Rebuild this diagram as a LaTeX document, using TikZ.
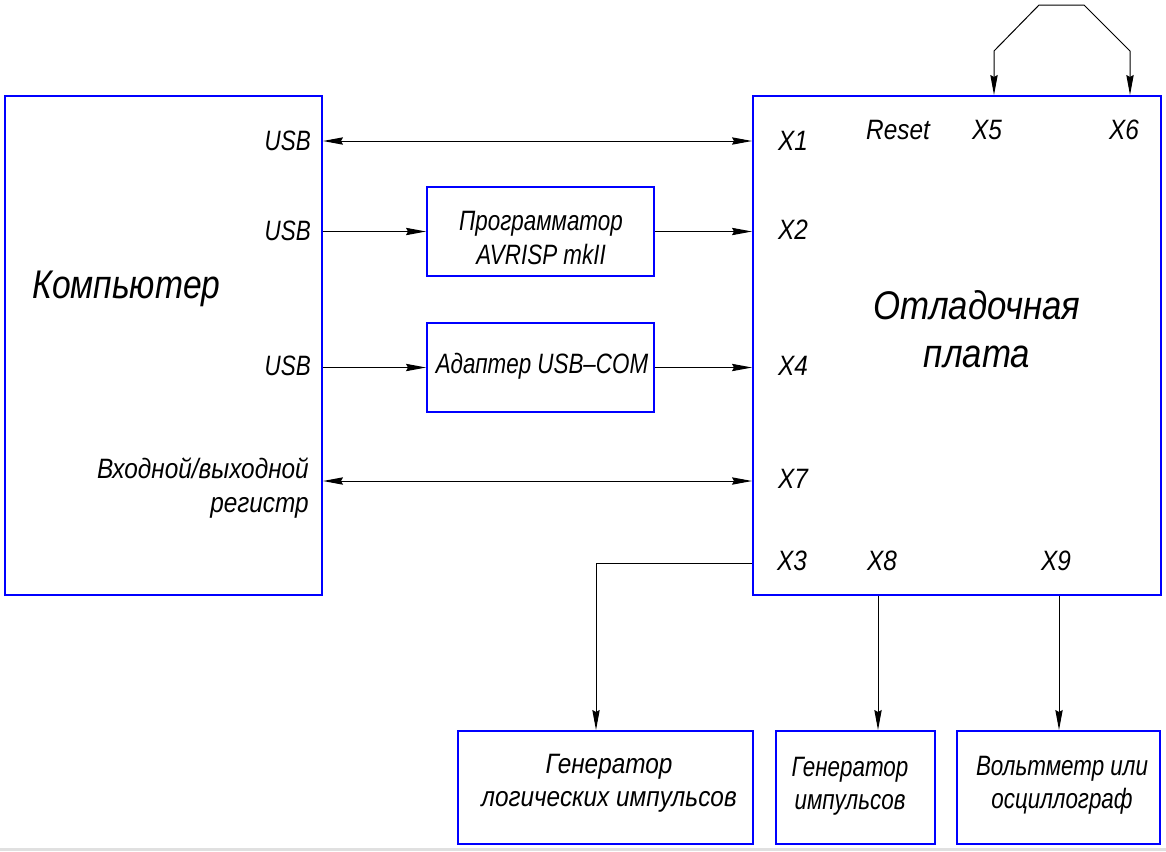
\documentclass[tikz,border=0pt]{standalone}
\usepackage{fontspec}
\setmainfont{Liberation Sans}[FakeStretch=0.87]
\newfontfamily\narrowfam{Liberation Sans}[FakeStretch=0.8]
\newfontfamily\compfam{Liberation Sans}[FakeStretch=0.84]
\usetikzlibrary{arrows.meta,fit}
\begin{document}
\begin{tikzpicture}[x=0.75pt,y=-0.75pt,
  blk/.style={draw={rgb,255:red,0;green,0;blue,255}, line width=1.5pt, inner sep=0pt},
  lbl/.style={font=\fontsize{21}{25}\selectfont\itshape, inner sep=0pt},
  nlbl/.style={font=\narrowfam\fontsize{21}{25}\selectfont\itshape, inner sep=0pt},
  big/.style={font=\fontsize{30}{34}\selectfont\itshape, inner sep=0pt},
  conn/.style={line width=0.75pt, black},
  arrowend/.style={-{Stealth[length=15pt,width=5.5pt,inset=1.5pt]}},
  arrowboth/.style={{Stealth[length=15pt,width=5.5pt,inset=1.5pt]}-{Stealth[length=15pt,width=5.5pt,inset=1.5pt]}}
]
\useasboundingbox (0,0) rectangle (1166,851);
\fill[black!12] (0,848) rectangle (1166,851);

% boxes
\node[blk, fit={(5,96) (322,595)}] (comp) {};
\node[blk, fit={(753,96) (1161,595)}] (board) {};
\node[blk, fit={(427,187) (654,276)}] (prog) {};
\node[blk, fit={(427,323) (654,412)}] (adap) {};
\node[blk, fit={(458,731) (753,844)}] (genlog) {};
\node[blk, fit={(776,731) (935,844)}] (genimp) {};
\node[blk, fit={(957,731) (1160,844)}] (volt) {};

% computer texts
\node[big, font=\compfam\fontsize{30}{34}\selectfont\itshape, anchor=base west] (comptxt) at (32,298) {Компьютер};
\node[nlbl, anchor=east] (usb1) at (311,141) {USB};
\node[nlbl, anchor=east] (usb2) at (311,231) {USB};
\node[nlbl, anchor=east] (usb3) at (311,366) {USB};
\node[lbl, anchor=east, align=right] (reg) at (309,488) {Входной/выходной\\регистр};

% board texts
\node[big, align=center, font=\fontsize{30}{36}\selectfont\itshape] (boardtxt) at (977,329) {Отладочная\\плата};
\node[lbl] (x1) at (793,141) {X1};
\node[lbl] (x2) at (793,230) {X2};
\node[lbl] (x4) at (793,366) {X4};
\node[lbl] (x7) at (793,479) {X7};
\node[lbl] (x3) at (792,561) {X3};
\node[lbl] (x8) at (882,561) {X8};
\node[lbl] (x9) at (1056,561) {X9};
\node[lbl] (reset) at (898,130) {Reset};
\node[lbl] (x5) at (987,130) {X5};
\node[lbl] (x6) at (1124,130) {X6};

% box texts
\node[nlbl, align=center] (progtxt) at (541,238) {Программатор\\AVRISP mkII};
\node[nlbl, align=center] (adaptxt) at (542,366) {Адаптер USB–COM};
\node[lbl, align=center] (genlogtxt) at (609,783) {Генератор\\логических импульсов};
\node[nlbl, align=center] (genimptxt) at (850,786) {Генератор\\импульсов};
\node[nlbl, align=center] (volttxt) at (1062,785) {Вольтметр или\\осциллограф};

% coordinates
\coordinate (y1) at (0,141);
\coordinate (y7) at (0,481);
\coordinate (c3) at (596,563);
\coordinate (c8) at (878,0);
\coordinate (c9) at (1059,0);
\coordinate (j5) at (994,51);
\coordinate (j5t) at (1039,5);
\coordinate (j6t) at (1084,5);
\coordinate (j6) at (1130,51);

% connectors
\draw[conn, arrowboth] (comp.east |- y1) -- (board.west |- y1);
\draw[conn, arrowend] (comp.east |- prog.west) -- (prog.west);
\draw[conn, arrowend] (prog.east) -- (board.west |- prog.east);
\draw[conn, arrowend] (comp.east |- adap.west) -- (adap.west);
\draw[conn, arrowend] (adap.east) -- (board.west |- adap.east);
\draw[conn, arrowboth] (comp.east |- y7) -- (board.west |- y7);
\draw[conn, arrowend] (board.west |- c3) -| (genlog.north -| c3);
\draw[conn, arrowend] (board.south -| c8) -- (genimp.north -| c8);
\draw[conn, arrowend] (board.south -| c9) -- (volt.north -| c9);
\draw[conn, arrowboth] (board.north -| j5) -- (j5) -- (j5t) -- (j6t) -- (j6) -- (board.north -| j6);
\end{tikzpicture}
\end{document}
